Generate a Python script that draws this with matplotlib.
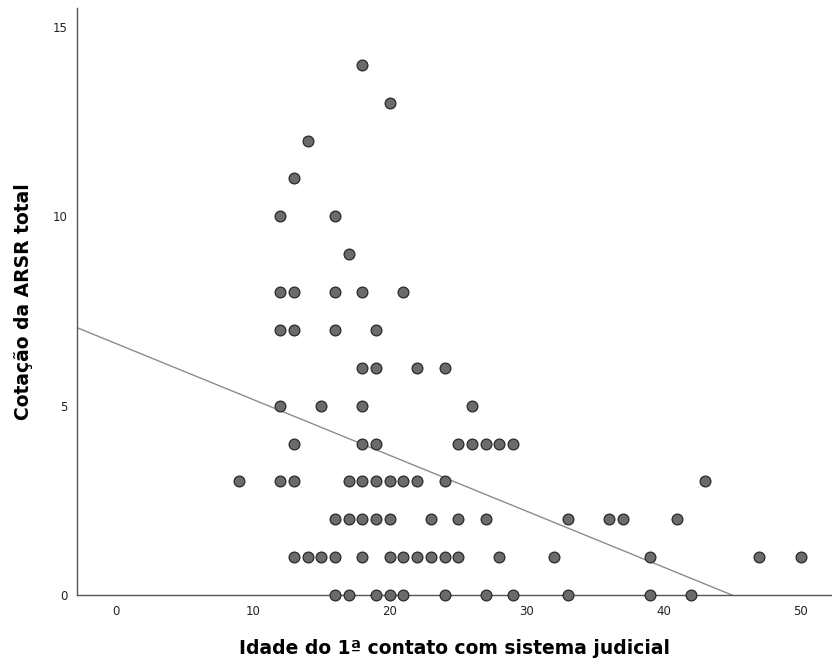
import matplotlib
matplotlib.use("Agg")
import matplotlib.pyplot as plt
import numpy as np

# Data: (age at first contact, ARSR total score)
row14 = [18]
row13 = [20]
row12 = [14]
row11 = [13]
row10 = [12, 16]
row9 = [17]
row8 = [12, 13, 16, 18, 21]
row7 = [12, 13, 16, 19]
row6 = [18, 19, 22, 24]
row5 = [12, 15, 18, 26]
row4 = [13, 18, 19, 25, 26, 27, 28, 29]
row3 = [9, 12, 13, 17, 18, 19, 20, 21, 22, 24, 43]
row2 = [16, 17, 18, 19, 20, 23, 25, 27, 33, 36, 37, 41]
row1 = [13, 14, 15, 16, 18, 20, 21, 22, 23, 24, 25, 28, 32, 39, 47, 50]
row0 = [16, 17, 19, 20, 21, 24, 27, 29, 33, 39, 42]

rows = {14: row14, 13: row13, 12: row12, 11: row11, 10: row10, 9: row9,
        8: row8, 7: row7, 6: row6, 5: row5, 4: row4, 3: row3, 2: row2,
        1: row1, 0: row0}

ages = []
scores = []
for score, xs in rows.items():
    for a in xs:
        ages.append(a)
        scores.append(score)

# Fit line
fit_intercept = 6.64
fit_slope = -0.1476

x_ticks = [0, 10, 20, 30, 40, 50]
y_ticks = [0, 5, 10, 15]

fig = plt.figure(figsize=(8.32, 6.64), dpi=100)
ax = fig.add_axes([0.0925, 0.1039, 0.9075, 0.884])

xlim = (-2.85, 52.3)
ax.set_xlim(*xlim)
ax.set_ylim(0, 15.5)

xl = np.array(xlim)
ax.plot(xl, fit_intercept + fit_slope * xl, color="#8c8c8c", lw=1.0, zorder=2)

ax.scatter(ages, scores, s=60, facecolor="#6b6b6b", edgecolor="#2a2a2a",
           linewidth=0.9, zorder=3, clip_on=False)

for side in ["top", "right"]:
    ax.spines[side].set_visible(False)
for side in ["left", "bottom"]:
    ax.spines[side].set_color("#555555")
    ax.spines[side].set_linewidth(1.0)

ax.set_xticks(x_ticks)
ax.set_yticks(y_ticks)
ax.tick_params(axis="both", length=0, labelsize=8.5, labelcolor="#222222")
ax.tick_params(axis="x", pad=7)
ax.tick_params(axis="y", pad=7)

ax.set_xlabel("Idade do 1ª contato com sistema judicial", fontsize=13.5,
              fontweight="bold", labelpad=15)
ax.set_ylabel("Cotação da ARSR total", fontsize=13.5, fontweight="bold",
              labelpad=14)

fig.savefig("out.png", dpi=100)
